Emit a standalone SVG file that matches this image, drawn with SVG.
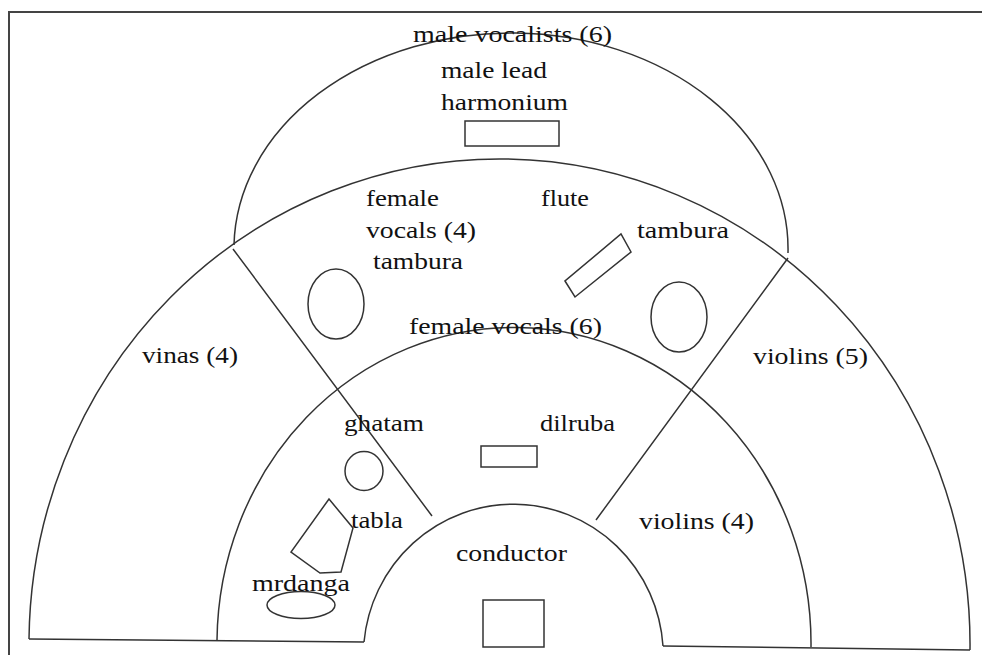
<svg xmlns="http://www.w3.org/2000/svg" width="982" height="655" viewBox="0 0 982 655">
<style>
.ln{fill:none;stroke:#333;stroke-width:1.5}
.fr{fill:none;stroke:#444;stroke-width:2}
.t{font-family:"Liberation Serif","Times New Roman",serif;font-size:24px;fill:#111}
</style>
<rect width="982" height="655" fill="#fff"/>
<g id="frame">
<path class="fr" d="M9 655 V12 H982"/>
</g>
<g id="arcs">
<path class="ln" d="M234 245 A277 216 0 0 1 788 253"/>
<path class="ln" d="M29 639 A470 485 0 0 1 970 650"/>
<path class="ln" d="M217 640 A297 316 0 0 1 811 647"/>
<path class="ln" d="M364 642 A150 152 0 0 1 663 646"/>
<path class="ln" d="M29 639 L364 642 M663 646 L970 650"/>
<path class="ln" d="M233 249 L432 516 M788 258 L596 520"/>
</g>
<g id="instruments">
<rect class="ln" x="465" y="121" width="94" height="25"/>
<ellipse class="ln" cx="336" cy="304" rx="28" ry="35"/>
<polygon class="ln" points="565,281 575,297 631,252 621,234"/>
<ellipse class="ln" cx="679" cy="317" rx="28" ry="35"/>
<rect class="ln" x="481" y="446" width="56" height="21"/>
<ellipse class="ln" cx="364" cy="471" rx="19" ry="19.5"/>
<polygon class="ln" points="329,499 353,528 341,572 320,573 291,552"/>
<ellipse class="ln" cx="301" cy="605" rx="34" ry="13.5"/>
<rect class="ln" x="483" y="600" width="61" height="47"/>
</g>
<g id="labels">
<text class="t" x="413" y="42" textLength="199" lengthAdjust="spacingAndGlyphs">male vocalists (6)</text>
<text class="t" x="441" y="78" textLength="106" lengthAdjust="spacingAndGlyphs">male lead</text>
<text class="t" x="441" y="110" textLength="127" lengthAdjust="spacingAndGlyphs">harmonium</text>
<text class="t" x="366" y="206" textLength="73" lengthAdjust="spacingAndGlyphs">female</text>
<text class="t" x="541" y="206" textLength="48" lengthAdjust="spacingAndGlyphs">flute</text>
<text class="t" x="366" y="238" textLength="110" lengthAdjust="spacingAndGlyphs">vocals (4)</text>
<text class="t" x="373" y="269" textLength="90" lengthAdjust="spacingAndGlyphs">tambura</text>
<text class="t" x="637" y="238" textLength="92" lengthAdjust="spacingAndGlyphs">tambura</text>
<text class="t" x="409" y="334" textLength="193" lengthAdjust="spacingAndGlyphs">female vocals (6)</text>
<text class="t" x="142" y="363" textLength="96" lengthAdjust="spacingAndGlyphs">vinas (4)</text>
<text class="t" x="753" y="364" textLength="115" lengthAdjust="spacingAndGlyphs">violins (5)</text>
<text class="t" x="344" y="431" textLength="80" lengthAdjust="spacingAndGlyphs">ghatam</text>
<text class="t" x="540" y="431" textLength="75" lengthAdjust="spacingAndGlyphs">dilruba</text>
<text class="t" x="351" y="528" textLength="52" lengthAdjust="spacingAndGlyphs">tabla</text>
<text class="t" x="639" y="529" textLength="115" lengthAdjust="spacingAndGlyphs">violins (4)</text>
<text class="t" x="456" y="561" textLength="111" lengthAdjust="spacingAndGlyphs">conductor</text>
<text class="t" x="252" y="591" textLength="98" lengthAdjust="spacingAndGlyphs">mrdanga</text>
</g>
</svg>
